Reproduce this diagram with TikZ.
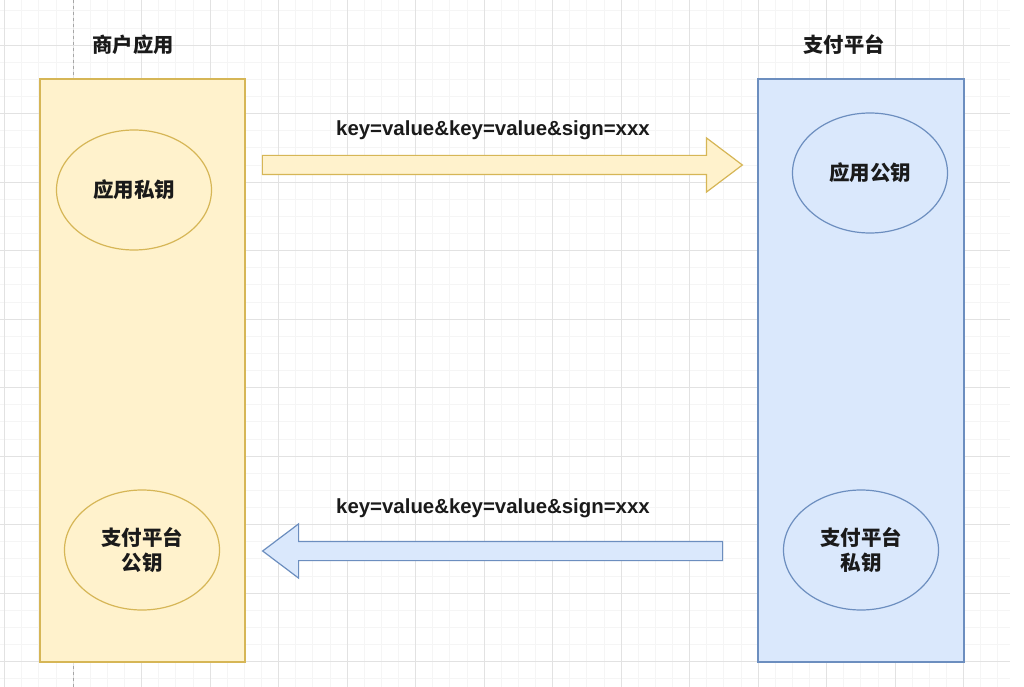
\documentclass[tikz,border=0pt]{standalone}
\usepackage{fontspec}
\setmainfont{Liberation Sans}
\newfontfamily\cjk{Noto Sans CJK SC}
\usetikzlibrary{shapes.geometric,shapes.arrows}
\definecolor{yfill}{HTML}{FFF2CC}
\definecolor{ydraw}{HTML}{D6B656}
\definecolor{bfill}{HTML}{DAE8FC}
\definecolor{bdraw}{HTML}{6C8EBF}
\definecolor{txt}{HTML}{1A1A1A}
\definecolor{gmajor}{HTML}{E2E2E2}
\definecolor{gminor}{HTML}{F5F5F5}
\tikzset{
  ybox/.style={draw=ydraw, fill=yfill, line width=1.2pt, inner sep=0pt},
  bbox/.style={draw=bdraw, fill=bfill, line width=1.2pt, inner sep=0pt},
  keyell/.style={ellipse, minimum width=155pt, minimum height=120pt, inner sep=0pt,
    line width=1.2pt, align=center, text=txt, font=\cjk\bfseries\fontsize{20.5pt}{25pt}\selectfont},
  title/.style={text=txt, font=\cjk\bfseries\fontsize{20.3pt}{23pt}\selectfont},
  msg/.style={text=txt, font=\bfseries\fontsize{20.4pt}{23pt}\selectfont},
  blockarrow/.style={single arrow, inner xsep=0pt, inner ysep=9pt, minimum width=0pt,
    single arrow head extend=17.5pt, single arrow tip angle=74, single arrow head indent=0pt,
    line width=1.2pt},
}
\begin{document}
\begin{tikzpicture}[x=1pt,y=-1pt]
\useasboundingbox[fill=white] (0,0) rectangle (1024,687);
% grid
\begin{scope}
\clip (0,0) rectangle (1010,687);
\foreach \i in {0,...,60} {
  \draw[gminor, line width=0.6pt] ({4.5+\i*17.125},0) -- ++(0,687);
}
\foreach \i in {0,...,42} {
  \draw[gminor, line width=0.6pt] (0,{-23.5+\i*17.125}) -- ++(1010,0);
}
\foreach \i in {0,...,15} {
  \draw[gmajor, line width=0.8pt] ({4.5+\i*68.5},0) -- ++(0,687);
}
\foreach \i in {0,...,11} {
  \draw[gmajor, line width=0.8pt] (0,{-23.5+\i*68.5}) -- ++(1010,0);
}
\end{scope}
\draw[gray!70, dashed, line width=0.7pt] (73,0) -- (73,687);

% lanes
\node[ybox, minimum width=205pt, minimum height=583pt] (app) at (142.5,370.5) {};
\node[bbox, minimum width=206pt, minimum height=583pt] (pay) at (861,370.5) {};

\node[title] (appt) at (133,45) {商户应用};
\node[title] (payt) at (844,45) {支付平台};

% keys
\node[keyell, draw=ydraw, fill=yfill] (apriv) at (134,190) {应用私钥};
\node[keyell, draw=bdraw, fill=bfill] (apub) at (870,173) {应用公钥};
\node[keyell, draw=ydraw, fill=yfill] (ppub) at (142,550) {支付平台\\公钥};
\node[keyell, draw=bdraw, fill=bfill] (ppriv) at (861,550) {支付平台\\私钥};

% arrows
\node[blockarrow, draw=ydraw, fill=yfill, minimum height=480pt] (req) at (496,165) {};
\node[blockarrow, draw=bdraw, fill=bfill, minimum height=460pt, shape border rotate=180] (resp) at (499,551) {};

\node[msg] (reqt) at (493,130) {key=value\&key=value\&sign=xxx};
\node[msg] (respt) at (493,508) {key=value\&key=value\&sign=xxx};
\end{tikzpicture}
\end{document}
